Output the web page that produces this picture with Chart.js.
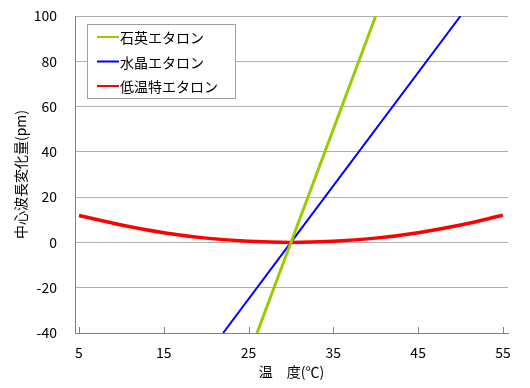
<!DOCTYPE html>
<html>
<head>
<meta charset="utf-8">
<script src="https://cdn.jsdelivr.net/npm/chart.js@4"></script>
<style>
  body { margin: 0; background: #fff; }
  #wrap { width: 530px; height: 388px; }
</style>
</head>
<body>
<div id="wrap"><canvas id="etalonChart" width="530" height="388"></canvas></div>
<script>
// 温度 (°C) と 中心波長変化量 (pm)
const quartzTemp = [26, 30, 40];
const quartzShift = [-40, 0, 100];

const crystalTemp = [22, 30, 50];
const crystalShift = [-40, 0, 100];

const lowTemp = [5, 10, 15, 20, 25, 30, 35, 40, 45, 50, 55];
const lowShift = [11.9, 7.7, 4.3, 1.9, 0.5, 0, 0.5, 1.9, 4.3, 7.7, 12.0];

const seriesNames = ["石英エタロン", "水晶エタロン", "低温特エタロン"];
const xTickValues = [5, 15, 25, 35, 45, 55];

const FONT = "'Noto Sans CJK JP', 'Noto Sans', sans-serif";

function toPoints(xs, ys) {
    return xs.map((x, i) => ({ x: x, y: ys[i] }));
}

// 枠内の凡例と内向きの目盛り
const innerLegend = {
    id: "innerLegend",
    afterDatasetsDraw(chart) {
        const ctx = chart.ctx;
        const xs = chart.scales.x;
        const area = chart.chartArea;

        ctx.save();
        ctx.strokeStyle = "#808080";
        ctx.lineWidth = 1;
        xTickValues.forEach(v => {
            const px = Math.round(xs.getPixelForValue(v)) + 0.5;
            ctx.beginPath();
            ctx.moveTo(px, area.bottom);
            ctx.lineTo(px, area.bottom - 6);
            ctx.stroke();
        });

        const bx = 87, by = 24, bw = 148, bh = 74;
        ctx.fillStyle = "#fff";
        ctx.fillRect(bx, by, bw, bh);
        ctx.strokeStyle = "#a0a0a0";
        ctx.strokeRect(bx + 0.5, by + 0.5, bw, bh);

        ctx.font = "14px " + FONT;
        ctx.textBaseline = "middle";
        chart.data.datasets.forEach((ds, i) => {
            const y = by + 13 + i * 24.5;
            ctx.strokeStyle = ds.borderColor;
            ctx.lineWidth = 2;
            ctx.beginPath();
            ctx.moveTo(bx + 10, y);
            ctx.lineTo(bx + 32, y);
            ctx.stroke();
            ctx.fillStyle = "#000";
            ctx.fillText(ds.label, bx + 33, y + 1);
        });
        ctx.restore();
    }
};

const ctx = document.getElementById("etalonChart").getContext("2d");
new Chart(ctx, {
    type: "scatter",
    data: {
        datasets: [
            {
                label: seriesNames[0],
                data: toPoints(quartzTemp, quartzShift),
                showLine: true,
                borderColor: "#99cc00",
                borderWidth: 3,
                pointRadius: 0,
                tension: 0
            },
            {
                label: seriesNames[1],
                data: toPoints(crystalTemp, crystalShift),
                showLine: true,
                borderColor: "#0000ff",
                borderWidth: 2,
                pointRadius: 0,
                tension: 0
            },
            {
                label: seriesNames[2],
                data: toPoints(lowTemp, lowShift),
                showLine: true,
                borderColor: "#ff0000",
                borderWidth: 3.5,
                pointRadius: 0,
                tension: 0.4
            }
        ]
    },
    options: {
        responsive: false,
        animation: false,
        layout: { padding: { top: 16, right: 22, left: 0, bottom: 0 } },
        plugins: {
            legend: { display: false },
            tooltip: { enabled: false }
        },
        scales: {
            x: {
                type: "linear",
                min: 4.53,
                max: 55.6,
                afterBuildTicks: scale => {
                    scale.ticks = xTickValues.map(v => ({ value: v }));
                },
                afterFit: scale => {
                    scale.height = 55;
                    scale.paddingLeft = 0;
                    scale.paddingRight = 0;
                },
                grid: { display: false, drawTicks: false },
                border: { color: "#808080", width: 1 },
                ticks: {
                    color: "#000",
                    font: { family: FONT, size: 14 },
                    padding: 11,
                    maxRotation: 0
                },
                title: {
                    display: true,
                    text: "温　度(℃)",
                    color: "#000",
                    font: { family: FONT, size: 14 },
                    padding: { top: 0, bottom: 8 }
                }
            },
            y: {
                min: -40,
                max: 100,
                afterFit: scale => {
                    scale.width = 75;
                    scale.paddingTop = 0;
                    scale.paddingBottom = 0;
                },
                grid: { color: "#b0b0b0", drawTicks: false },
                border: { color: "#808080", width: 1 },
                ticks: {
                    stepSize: 20,
                    color: "#000",
                    font: { family: FONT, size: 14 },
                    padding: 18
                },
                title: {
                    display: true,
                    text: "中心波長変化量(pm)",
                    color: "#000",
                    font: { family: FONT, size: 14 },
                    padding: { top: 12, bottom: 0 }
                }
            }
        }
    },
    plugins: [innerLegend]
});
</script>
</body>
</html>
